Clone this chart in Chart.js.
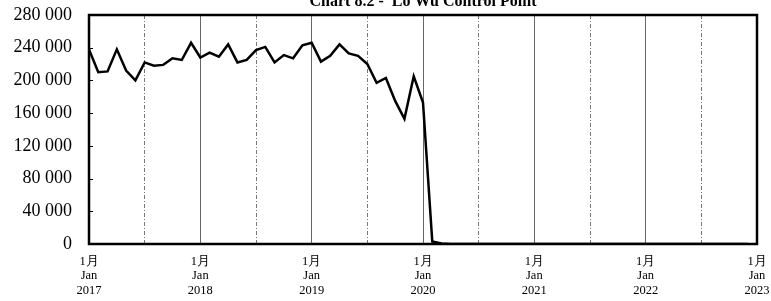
<!DOCTYPE html>
<html>
<head>
<meta charset="utf-8">
<script src="https://cdn.jsdelivr.net/npm/chart.js@4/dist/chart.umd.min.js"></script>
<style>
    html, body { margin: 0; padding: 0; background: #fff; }
    #wrap { width: 771px; height: 301px; }
</style>
</head>
<body>
<div id="wrap"><canvas id="chart"></canvas></div>
<script>
/* Chart data: monthly arrivals + departures, Jan 2017 onwards */
var chartTitle = 'Chart 8.2 -  Lo Wu Control Point';
var startYear = 2017;
var yearLabels = ['2017', '2018', '2019', '2020', '2021', '2022', '2023'];
var monthZh = '1月';
var monthEn = 'Jan';
var yTicks = [0, 40000, 80000, 120000, 160000, 200000, 240000, 280000];

var values2017 = [238000, 210000, 211000, 238000, 212000, 200000, 222000, 218000, 219000, 227000, 225000, 246000];
var values2018 = [228000, 234000, 229000, 244000, 222000, 225000, 237000, 241000, 222000, 231000, 227000, 243000];
var values2019 = [246000, 223000, 230000, 244000, 233000, 230000, 220000, 197000, 203000, 175000, 153000, 205000];
var values2020 = [173000, 3000, 500, 0, 0, 0, 0, 0, 0, 0, 0, 0];
var values2021 = [0, 0, 0, 0, 0, 0, 0, 0, 0, 0, 0, 0];
var values2022 = [0, 0, 0, 0, 0, 0, 0, 0, 0, 0, 0, 0];

var allValues = [].concat(values2017, values2018, values2019, values2020, values2021, values2022);
var points = allValues.map(function(v, i) {
    return { x: i, y: v };
});
var totalMonths = yearLabels.length * 12 - 12;

function spaced(v) {
    return String(v).replace(/\B(?=(\d{3})+(?!\d))/g, ' ');
}

/* title, frame and inner y ticks */
var framePlugin = {
    id: 'frame',
    afterDraw: function(chart) {
        var ctx = chart.ctx;
        var a = chart.chartArea;
        var ys = chart.scales.y;
        ctx.save();
        ctx.strokeStyle = '#000';
        ctx.lineWidth = 1;
        yTicks.forEach(function(t) {
            var py = Math.round(ys.getPixelForValue(t)) + 0.5;
            ctx.beginPath();
            ctx.moveTo(a.left, py);
            ctx.lineTo(a.left + 4, py);
            ctx.stroke();
        });
        ctx.lineWidth = 2.5;
        ctx.strokeRect(a.left, a.top, a.right - a.left, a.bottom - a.top);
        ctx.fillStyle = '#000';
        ctx.font = 'bold 16px "Liberation Serif", serif';
        ctx.textAlign = 'center';
        ctx.textBaseline = 'alphabetic';
        ctx.fillText(chartTitle, (a.left + a.right) / 2, 6);
        ctx.restore();
    }
};

function noPad(scale) {
    scale.paddingLeft = 0;
    scale.paddingRight = 0;
    scale.paddingTop = 0;
    scale.paddingBottom = 0;
}

new Chart(document.getElementById('chart'), {
    type: 'line',
    data: {
        datasets: [{
            data: points,
            borderColor: '#000',
            borderWidth: 2.5,
            pointRadius: 0,
            tension: 0,
            fill: false
        }]
    },
    options: {
        responsive: true,
        maintainAspectRatio: false,
        animation: false,
        layout: { padding: { left: 0, right: 14, top: 15, bottom: 0 } },
        plugins: {
            legend: { display: false },
            tooltip: { enabled: false }
        },
        scales: {
            x: {
                type: 'linear',
                min: 0,
                max: totalMonths,
                afterBuildTicks: function(scale) {
                    scale.ticks = yearLabels.map(function(y, i) { return { value: i * 12 }; });
                },
                afterFit: function(scale) { scale.height = 57; noPad(scale); },
                grid: { color: '#666', lineWidth: 1, drawTicks: false },
                border: { display: false },
                ticks: {
                    autoSkip: false,
                    maxRotation: 0,
                    padding: 10,
                    color: '#000',
                    font: { family: '"Liberation Serif", serif', size: 12.5, lineHeight: 1.18 },
                    callback: function(value) {
                        return [monthZh, monthEn, yearLabels[Math.round(value / 12)]];
                    }
                }
            },
            x2: {
                type: 'linear',
                position: 'top',
                min: 0,
                max: totalMonths,
                afterBuildTicks: function(scale) {
                    var t = [];
                    for (var m = 6; m < totalMonths; m += 12) t.push({ value: m });
                    scale.ticks = t;
                },
                afterFit: function(scale) { scale.height = 0; noPad(scale); },
                grid: { color: '#777', lineWidth: 1, drawTicks: false },
                border: { display: false, dash: [4, 2, 1, 2] },
                ticks: { display: false }
            },
            y: {
                min: 0,
                max: 280000,
                afterBuildTicks: function(scale) {
                    scale.ticks = yTicks.map(function(v) { return { value: v }; });
                },
                afterFit: function(scale) { scale.width = 89; noPad(scale); },
                grid: { display: false, drawTicks: false },
                border: { display: false },
                ticks: {
                    padding: 17,
                    color: '#000',
                    font: { family: '"Liberation Serif", serif', size: 18 },
                    callback: function(value) { return spaced(value); }
                }
            }
        }
    },
    plugins: [framePlugin]
});
</script>
</body>
</html>
